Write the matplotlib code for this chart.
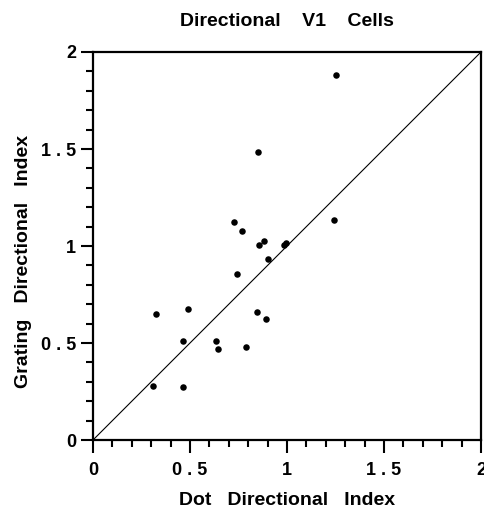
import numpy as np
import matplotlib
matplotlib.use('Agg')
from matplotlib import pyplot as plt
from matplotlib.ticker import MultipleLocator

# directional index per cell: dots vs gratings
dot_index = [1.253, 0.851, 0.725, 0.768, 0.857, 0.883, 1.244, 0.982, 0.995,
             0.904, 0.741, 0.326, 0.490, 0.844, 0.892, 0.462, 0.634, 0.644,
             0.787, 0.309, 0.466]
grating_index = [1.881, 1.483, 1.122, 1.077, 1.003, 1.027, 1.134, 1.005, 1.015,
                 0.931, 0.856, 0.648, 0.674, 0.658, 0.625, 0.510, 0.509, 0.471,
                 0.481, 0.280, 0.272]

tick_vals = [0, 0.5, 1, 1.5, 2]
tick_text = ['0', '0 . 5', '1', '1 . 5', '2']

plt.rcParams['font.family'] = ['Liberation Sans', 'DejaVu Sans']
plt.rcParams['font.weight'] = 'bold'

fig = plt.figure(figsize=(4.84, 5.11), dpi=100)
ax = fig.add_axes([93/484, 71/511, 388/484, 388/511])

ax.plot([0, 2], [0, 2], color='black', lw=0.8)
ax.scatter(dot_index, grating_index, s=22, color='black', zorder=3, linewidths=0)

ax.set_xlim(0, 2)
ax.set_ylim(0, 2)
ax.set_xticks(tick_vals)
ax.set_xticklabels(tick_text)
ax.set_yticks(tick_vals)
ax.set_yticklabels(tick_text)
ax.xaxis.set_minor_locator(MultipleLocator(0.1))
ax.yaxis.set_minor_locator(MultipleLocator(0.1))
ax.tick_params(which='major', direction='out', length=9, width=1.5, labelsize=13)
ax.tick_params(which='minor', direction='out', length=5, width=1.5)
ax.tick_params(axis='x', which='major', pad=7)
ax.tick_params(axis='y', which='major', pad=3)
ax.tick_params(top=False, right=False)
for s in ax.spines.values():
    s.set_linewidth(1.6)

ax.set_title('Directional    V1    Cells', fontsize=14, fontweight='bold', pad=19)
ax.set_xlabel('Dot   Directional   Index', fontsize=14, fontweight='bold', labelpad=9)
ax.set_ylabel('Grating   Directional   Index', fontsize=14, fontweight='bold')
ax.yaxis.set_label_coords(-0.158, 0.46)

fig.savefig('out.png', dpi=100)
